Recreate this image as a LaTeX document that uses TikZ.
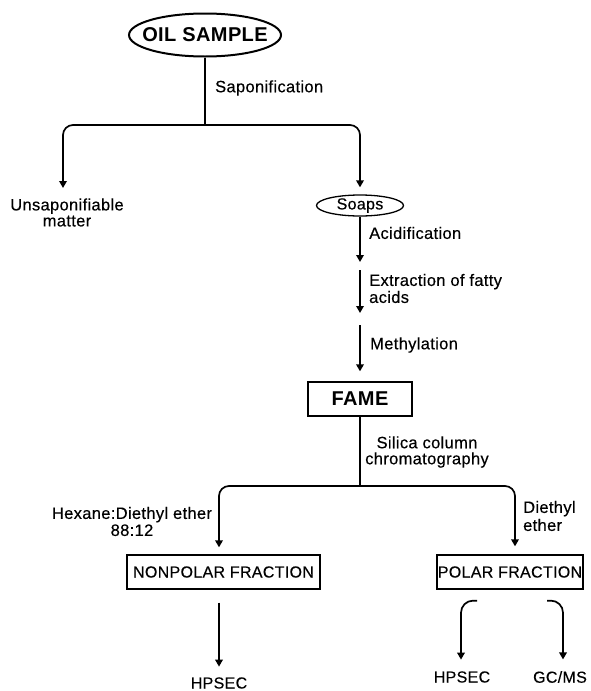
\documentclass[tikz,border=0pt]{standalone}
\usepackage{fontspec}
\setmainfont{Liberation Sans}[LetterSpace=2, UprightFeatures={FakeBold=0.35}]
\usetikzlibrary{arrows.meta,shapes.geometric}
\tikzset{
  lbl/.style={font=\fontsize{16.5}{17}\selectfont, inner sep=0pt},
  boxnode/.style={draw, line width=1.3pt, minimum height=34, inner sep=0pt, font=\fontsize{16}{18}\selectfont},
  conn/.style={line width=1.7pt},
  arr/.style={conn, -{Triangle[length=7pt,width=7.5pt]}},
}
\begin{document}
\begin{tikzpicture}[x=1pt,y=-1pt]
\useasboundingbox (0,0) rectangle (590,691);
% nodes
\node[ellipse, draw, line width=2pt, minimum width=152, minimum height=43, inner sep=0pt,
      font=\bfseries\fontsize{20}{24}\selectfont] (oil) at (205,35) {\makebox[90pt][c]{OIL SAMPLE}};
\node[lbl, anchor=west] (sap) at (215,88) {Saponification};
\node[lbl, align=center, font=\fontsize{16.5}{16}\selectfont] (unsap) at (67,212.5) {Unsaponifiable\\matter};
\node[ellipse, draw, line width=1.3pt, minimum width=87, minimum height=21, inner sep=0pt,
      font=\fontsize{16}{17}\selectfont] (soaps) at (360,205.5) {Soaps};
\node[lbl, anchor=west] (acid) at (369,233) {Acidification};
\node[lbl, anchor=west, align=left] (extr) at (369,288.5) {Extraction of fatty\\acids};
\node[lbl, anchor=west] (meth) at (370,345) {Methylation};
\node[boxnode, minimum width=104, font=\bfseries\fontsize{20}{24}\selectfont] (fame) at (360,399) {FAME};
\node[lbl, align=center, font=\fontsize{16.5}{16}\selectfont] (silica) at (427,452) {Silica column\\chromatography};
\node[lbl, align=center] (hex) at (132,521.5) {Hexane:Diethyl ether\\88:12};
\node[lbl, anchor=west, align=left, font=\fontsize{16.5}{18}\selectfont] (dee) at (523,516) {Diethyl\\ether};
\node[boxnode, minimum width=193] (nonpolar) at (223.5,572) {NONPOLAR FRACTION};
\node[boxnode, minimum width=146] (polar) at (510,572) {POLAR FRACTION};
\node[lbl, font=\fontsize{16}{18}\selectfont] (hp1) at (219,683) {HPSEC};
\node[lbl, font=\fontsize{16}{18}\selectfont] (hp2) at (462,677) {HPSEC};
\node[lbl, font=\fontsize{16}{18}\selectfont] (gc) at (560,677) {GC/MS};
% coordinates
\coordinate (j1) at (205,125);
\coordinate (t1) at (63,188);
\coordinate (c1) at (360,262);
\coordinate (c2) at (360,270);
\coordinate (c3) at (360,313);
\coordinate (c4) at (360,325);
\coordinate (j2) at (360,486);
% connectors
\draw[conn] (oil.south) -- (j1);
\draw[arr, rounded corners=10pt] (j1) -| (t1);
\draw[arr, rounded corners=10pt, shorten >=7pt] (j1) -| (soaps.north);
\draw[arr] (soaps.south) -- (c1);
\draw[arr] (c2) -- (c3);
\draw[arr, shorten >=10pt] (c4) -- (fame.north);
\draw[conn] (fame.south) -- (j2);
\draw[arr, rounded corners=10pt, shorten >=7pt] (j2) -| ([xshift=-4.5pt]nonpolar.north);
\draw[arr, rounded corners=10pt, shorten >=8pt] (j2) -| ([xshift=5pt]polar.north);
\draw[arr, shorten <=13pt, shorten >=10.5pt] ([xshift=-4.5pt]nonpolar.south) -- (hp1.north);
\draw[arr, rounded corners=12pt, shorten >=11.5pt] ([xshift=-33pt,yshift=-11pt]polar.south) -| ([xshift=-1pt]hp2.north);
\draw[arr, rounded corners=12pt, shorten >=11.5pt] ([xshift=37pt,yshift=-11pt]polar.south) -| ([xshift=3pt]gc.north);
\end{tikzpicture}
\end{document}
